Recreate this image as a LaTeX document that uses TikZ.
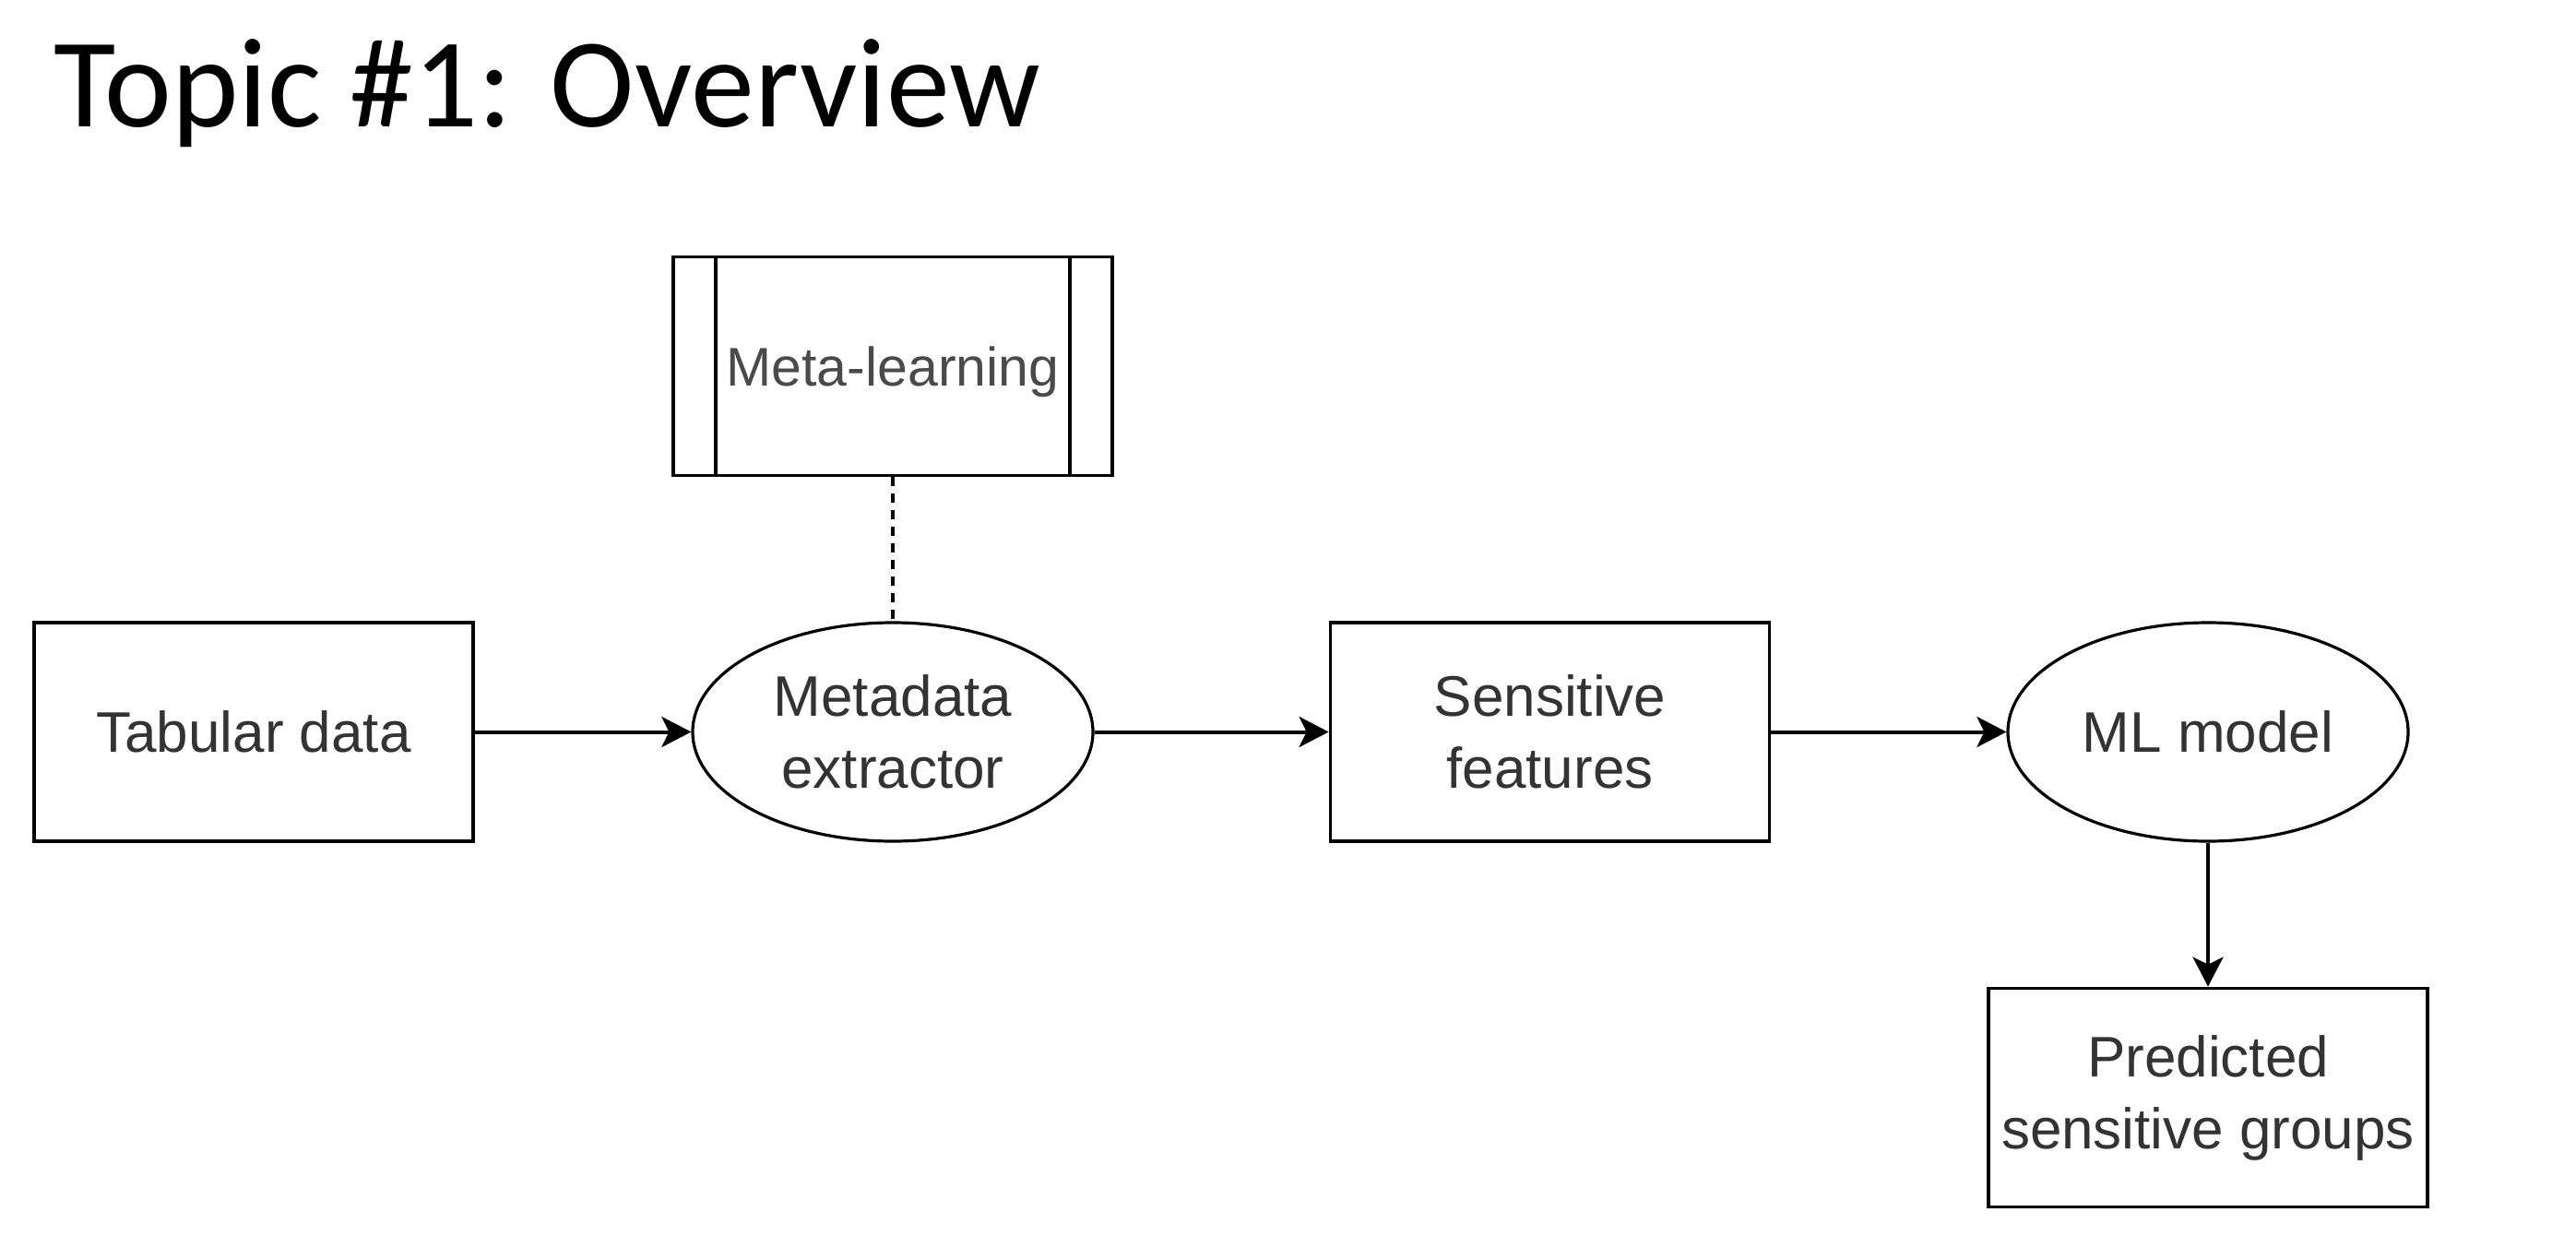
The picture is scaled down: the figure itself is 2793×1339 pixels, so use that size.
\documentclass[tikz,border=0pt]{standalone}
\usepackage{fontspec}
\setmainfont{Liberation Sans}
\newfontfamily\titlefont{Carlito}
\usetikzlibrary{shapes.geometric,arrows.meta}
\definecolor{txt}{HTML}{333333}
\definecolor{txtlight}{HTML}{4A4A4A}
\begin{document}
\begin{tikzpicture}[x=0.5pt,y=-0.5pt,
  lbl/.style={align=center, font=\fontsize{31}{39}\selectfont, text=txt},
  box/.style={lbl, draw=black, line width=1.9pt, rectangle, minimum width=238pt, minimum height=118.5pt, inner sep=0pt},
  oval/.style={lbl, draw=black, line width=1.6pt, ellipse, minimum width=217pt, minimum height=118.5pt, inner sep=0pt},
  arr/.style={draw=black, line width=2pt, -{Stealth[length=16pt,width=16.5pt,inset=4pt]}},
  dashline/.style={draw=black, line width=1.6pt, dash pattern=on 5pt off 4pt}
]
\useasboundingbox (0,0) rectangle (2793,1339);
\fill[white] (0,0) rectangle (2793,1339);

\node[anchor=base west, inner sep=0pt, font=\titlefont\fontsize{69}{80}\selectfont] (title) at (58,137) {Topic \#1: Overview};

\node[box] (tab) at (275,793.5) {Tabular data};
\node[oval] (mx) at (968,793.5) {Metadata\\extractor};
\node[box] (sf) at (1680.5,793.5) {Sensitive\\features};
\node[oval] (ml) at (2394,793.5) {ML model};
\node[box] (pred) at (2394,1190) {Predicted\\sensitive groups};
\node[box, text=txtlight, font=\fontsize{29.5}{36}\selectfont, text depth=0pt] (meta) at (968,397) {Meta-learning};
\draw[line width=1.9pt] ([xshift=24pt]meta.north west) -- ([xshift=24pt]meta.south west);
\draw[line width=1.9pt] ([xshift=-24pt]meta.north east) -- ([xshift=-24pt]meta.south east);

\draw[arr] (tab) -- (mx);
\draw[arr] (mx) -- (sf);
\draw[arr] (sf) -- (ml);
\draw[arr] (ml) -- (pred);
\draw[dashline] (meta) -- (mx);
\end{tikzpicture}
\end{document}
